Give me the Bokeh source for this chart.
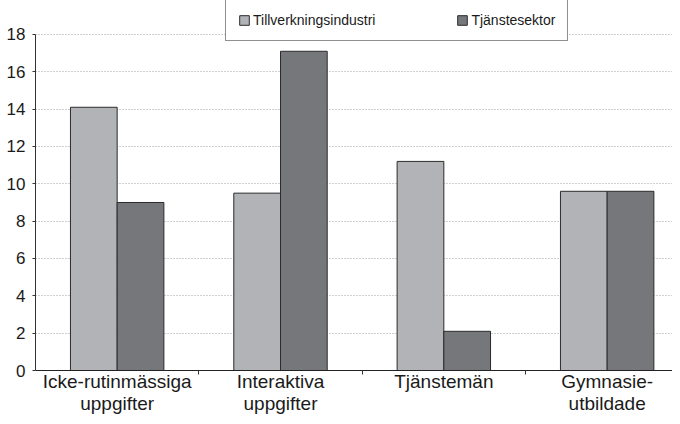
import numpy as np
from bokeh.plotting import figure
from bokeh.models import (ColumnDataSource, Range1d, FixedTicker, CustomJSTickFormatter,
                          Legend, LegendItem)
from bokeh.transform import dodge
from bokeh.embed import file_html
from bokeh.resources import INLINE

categories = ["Icke-rutinmässiga\nuppgifter", "Interaktiva\nuppgifter", "Tjänstemän", "Gymnasie-\nutbildade"]
series_names = ["Tillverkningsindustri", "Tjänstesektor"]
tillverkning = [14.1, 9.5, 11.2, 9.6]
tjanst = [9.0, 17.1, 2.1, 9.6]
y_ticks = [0, 2, 4, 6, 8, 10, 12, 14, 16, 18]

FONT = "Liberation Sans"
TXT = "#1a1a1a"

src = ColumnDataSource(dict(
    x=np.arange(len(categories)) + 0.5,
    a=tillverkning,
    b=tjanst,
))

p = figure(width=672, height=416, output_backend="svg", toolbar_location=None,
           x_range=Range1d(0, 3.90), y_range=Range1d(0, 19.82),
           min_border_left=35, min_border_right=0, min_border_top=0, min_border_bottom=0)
p.outline_line_color = None
p.background_fill_color = "white"

bw = 0.286
r1 = p.vbar(x=dodge("x", -0.143, range=p.x_range), top="a", width=bw, source=src,
            fill_color="#b2b3b7", line_color="#2b2b2b", line_width=1)
r2 = p.vbar(x=dodge("x", 0.143, range=p.x_range), top="b", width=bw, source=src,
            fill_color="#76777b", line_color="#2b2b2b", line_width=1)

# x axis
xa = p.xaxis[0]
xa.ticker = FixedTicker(ticks=list(np.arange(len(categories)) + 0.5),
                        minor_ticks=list(range(1, len(categories))))
xa.formatter = CustomJSTickFormatter(args=dict(labels=categories),
                                     code="return labels[Math.floor(tick)];")
xa.major_tick_line_color = None
xa.major_tick_out = 0
xa.major_tick_in = 0
xa.minor_tick_out = 4
xa.minor_tick_in = 0
xa.minor_tick_line_color = "#333333"
xa.axis_line_color = "#222222"
xa.major_label_text_font = FONT
xa.major_label_text_font_size = "19px"
xa.major_label_text_color = TXT
xa.major_label_text_line_height = 1.05
xa.major_label_standoff = -4

# y axis
ya = p.yaxis[0]
ya.ticker = FixedTicker(ticks=y_ticks)
ya.bounds = (0, 18)
ya.axis_line_color = "#333333"
ya.major_tick_out = 3
ya.major_tick_in = 0
ya.major_tick_line_color = "#333333"
ya.minor_tick_line_color = None
ya.major_label_text_font = FONT
ya.major_label_text_font_size = "17px"
ya.major_label_text_color = TXT
ya.major_label_standoff = 7

p.xgrid.grid_line_color = None
p.ygrid.ticker = FixedTicker(ticks=y_ticks[1:])
p.ygrid.grid_line_color = "#a0a0a0"
p.ygrid.grid_line_dash = "1 2"
p.ygrid.grid_line_width = 1

legend = Legend(items=[LegendItem(label=series_names[0], renderers=[r1]),
                       LegendItem(label=series_names[1], renderers=[r2])],
                orientation="horizontal", location=(190, 329),
                padding=12, spacing=81, label_standoff=3,
                glyph_width=12, glyph_height=12, label_height=12,
                label_text_font=FONT, label_text_font_size="14px", label_text_color=TXT,
                border_line_color="#222222", border_line_width=1,
                background_fill_color="white", background_fill_alpha=1.0, margin=0)
p.add_layout(legend, "center")

open("out.html", "w").write(file_html(p, INLINE))
